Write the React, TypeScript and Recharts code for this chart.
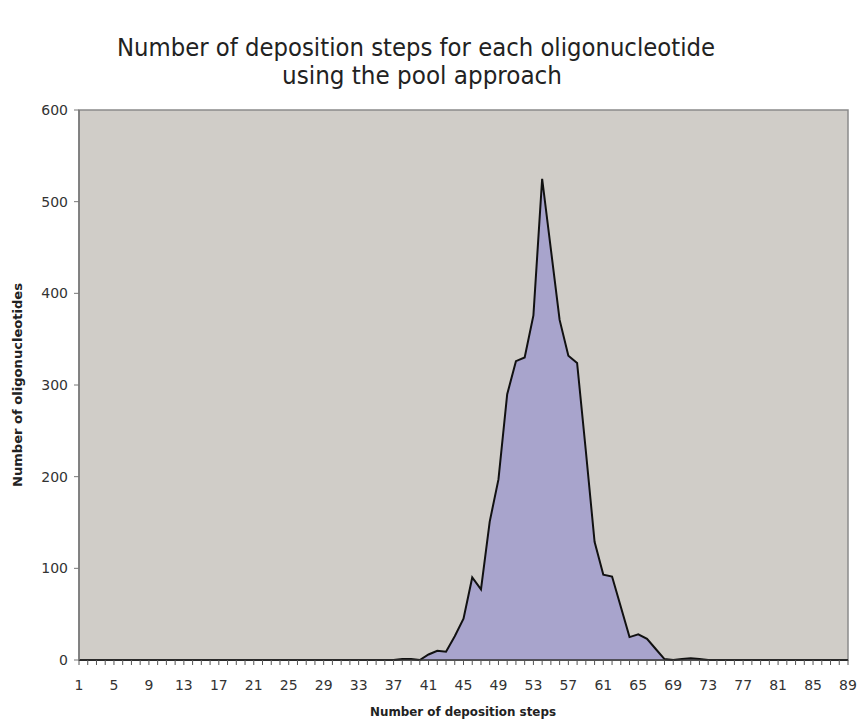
import React from "react";
import { AreaChart, Area, XAxis, YAxis, ReferenceArea } from "recharts";

const steps = [
  1, 2, 3, 4, 5, 6, 7, 8, 9, 10, 11, 12, 13, 14, 15, 16, 17, 18, 19, 20,
  21, 22, 23, 24, 25, 26, 27, 28, 29, 30, 31, 32, 33, 34, 35, 36, 37, 38, 39, 40,
  41, 42, 43, 44, 45, 46, 47, 48, 49, 50, 51, 52, 53, 54, 55, 56, 57, 58, 59, 60,
  61, 62, 63, 64, 65, 66, 67, 68, 69, 70, 71, 72, 73, 74, 75, 76, 77, 78, 79, 80,
  81, 82, 83, 84, 85, 86, 87, 88, 89,
];

const counts = [
  0, 0, 0, 0, 0, 0, 0, 0, 0, 0, 0, 0, 0, 0, 0, 0, 0, 0, 0, 0,
  0, 0, 0, 0, 0, 0, 0, 0, 0, 0, 0, 0, 0, 0, 0, 0, 0, 1, 1, 0,
  6, 10, 9, 26, 45, 90, 77, 151, 197, 290, 326, 330, 376, 525, 448, 371, 332, 324, 228, 129,
  93, 91, 58, 25, 28, 23, 12, 1, 0, 1, 2, 1, 0, 0, 0, 0, 0, 0, 0, 0,
  0, 0, 0, 0, 0, 0, 0, 0, 0,
];

const yTicks = [0, 100, 200, 300, 400, 500, 600];
const titleLines = ["Number of deposition steps for each oligonucleotide", "using the pool approach"];
const xTitle = "Number of deposition steps";
const yTitle = "Number of oligonucleotides";

const data = steps.map((s, i) => ({ step: s, count: counts[i] }));

const W = 863;
const H = 722;
const FONT = "'DejaVu Sans', Verdana, sans-serif";
const TITLE_FONT = "'Liberation Sans Narrow', 'DejaVu Sans Condensed', 'DejaVu Sans', Arial, sans-serif";

const XTick = (props: any) => {
  const { x, y, payload } = props;
  const v = payload.value;
  const show = (v - 1) % 4 === 0;
  return (
    <g>
      <line x1={x} x2={x} y1={y} y2={y + 5} stroke="#555" strokeWidth={1} />
      {show && (
        <text x={x} y={y + 30} textAnchor="middle" fontSize={14} fontFamily={FONT} fill="#333">
          {v}
        </text>
      )}
    </g>
  );
};

export default function App() {
  return (
    <div
      style={{
        position: "fixed",
        left: 0,
        top: 0,
        width: W,
        height: H,
        background: "#fff",
        overflow: "hidden",
      }}
    >
      <AreaChart
        width={W}
        height={H}
        data={data}
        margin={{ top: 110, right: 15, left: 0, bottom: 0 }}
      >
        <XAxis
          dataKey="step"
          type="category"
          interval={0}
          tickSize={0}
          tickMargin={0}
          tick={<XTick />}
          axisLine={{ stroke: "#333", strokeWidth: 1.5 }}
          tickLine={false}
          height={62}
        />
        <YAxis
          domain={[0, 600]}
          ticks={yTicks}
          width={79}
          tickSize={5}
          tickMargin={6}
          axisLine={{ stroke: "#777", strokeWidth: 1.5 }}
          tickLine={{ stroke: "#777" }}
          tick={{ fontSize: 14, fontFamily: FONT, fill: "#333" }}
        />
        <ReferenceArea
          x1={1}
          x2={89}
          y1={0}
          y2={600}
          fill="#D0CDC8"
          fillOpacity={1}
          stroke="#8a8a8a"
          strokeWidth={1.5}
          ifOverflow="extendDomain"
        />
        <Area
          type="linear"
          dataKey="count"
          stroke="#111"
          strokeWidth={2}
          fill="#A8A4CC"
          fillOpacity={1}
          isAnimationActive={false}
          dot={false}
          activeDot={false}
        />
      </AreaChart>
      <svg
        width={W}
        height={H}
        style={{ position: "absolute", left: 0, top: 0, pointerEvents: "none" }}
      >
        <text
          x={416}
          y={56}
          textAnchor="middle"
          fontSize={25}
          fontFamily={TITLE_FONT}
          fill="#222"
          textLength={598}
          lengthAdjust="spacingAndGlyphs"
        >
          {titleLines[0]}
        </text>
        <text
          x={422}
          y={84}
          textAnchor="middle"
          fontSize={25}
          fontFamily={TITLE_FONT}
          fill="#222"
          textLength={280}
          lengthAdjust="spacingAndGlyphs"
        >
          {titleLines[1]}
        </text>
        <text
          x={463}
          y={716}
          textAnchor="middle"
          fontSize={12}
          fontWeight="bold"
          fontFamily={FONT}
          fill="#222"
          textLength={186}
          lengthAdjust="spacingAndGlyphs"
        >
          {xTitle}
        </text>
        <text
          x={0}
          y={0}
          transform="translate(22,385) rotate(-90)"
          textAnchor="middle"
          fontSize={12}
          fontWeight="bold"
          fontFamily={FONT}
          fill="#222"
          textLength={204}
          lengthAdjust="spacingAndGlyphs"
        >
          {yTitle}
        </text>
      </svg>
    </div>
  );
}
